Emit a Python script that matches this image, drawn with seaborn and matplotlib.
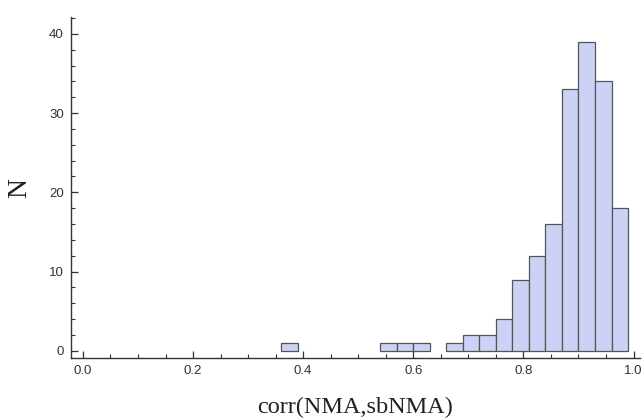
import numpy as np
import pandas as pd
import matplotlib
matplotlib.use("Agg")
import matplotlib.pyplot as plt
import seaborn as sns
from matplotlib.ticker import MultipleLocator

# Data (bin width 0.03)
bin_left = [0.36, 0.54, 0.57, 0.60, 0.66, 0.69, 0.72, 0.75, 0.78, 0.81, 0.84, 0.87, 0.90, 0.93, 0.96]
counts   = [1,    1,    1,    1,    1,    2,    2,    4,    9,    12,   16,   33,   39,   34,   18]
bin_width = 0.03
x_ticks = [0.0, 0.2, 0.4, 0.6, 0.8, 1.0]
y_ticks = [0, 10, 20, 30, 40]

sns.set_style("ticks")
plt.rcParams['font.family'] = ['Liberation Sans', 'DejaVu Sans']

fig = plt.figure(figsize=(6.44, 4.19), dpi=100)
ax = fig.add_axes([0.110, 0.1456, 0.884, 0.8134])

df = pd.DataFrame({"corr": [b + bin_width / 2 for b in bin_left],
                   "n": counts})
sns.histplot(data=df, x="corr", weights="n", binwidth=bin_width,
             binrange=(0.36, 0.99), ax=ax,
             color="#CBD2F6", edgecolor="#555555", linewidth=0.9, alpha=1.0)

# hide empty bins (no baseline strokes in the reference)
for p in ax.patches:
    if p.get_height() <= 0:
        p.set_visible(False)

ax.set_xlim(-0.022, 1.012)
ax.set_ylim(-0.9, 42.1)
ax.set_xticks(x_ticks)
ax.set_xticklabels([f"{t:.1f}" for t in x_ticks])
ax.set_yticks(y_ticks)
ax.xaxis.set_minor_locator(MultipleLocator(0.05))
ax.yaxis.set_minor_locator(MultipleLocator(2))

for s in ["top", "right"]:
    ax.spines[s].set_visible(False)
for s in ["left", "bottom"]:
    ax.spines[s].set_color("#333333")
    ax.spines[s].set_linewidth(1.0)

ax.tick_params(axis="both", which="major", direction="in", length=5, width=0.9,
               color="#333333", labelsize=9.5, labelcolor="#333333")
ax.tick_params(axis="both", which="minor", direction="in", length=3, width=0.8,
               color="#333333")
ax.tick_params(axis="x", which="major", pad=5)
ax.tick_params(axis="y", which="major", pad=5)

ax.set_xlabel("corr(NMA,sbNMA)", family=["Liberation Serif"], fontsize=17.5,
              color="#222222", labelpad=14)
ax.set_ylabel("N", family=["Liberation Serif"], fontsize=20, color="#222222",
              labelpad=12)

fig.savefig("out.png", dpi=100, facecolor="white")
